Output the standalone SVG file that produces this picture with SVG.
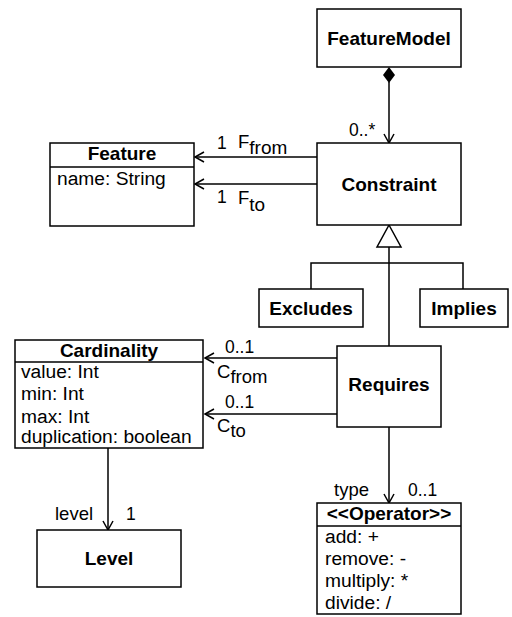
<svg xmlns="http://www.w3.org/2000/svg" width="512" height="617" viewBox="0 0 512 617">
<style>
.box{fill:#fff;stroke:#000;stroke-width:1.5}
.ln{fill:none;stroke:#000;stroke-width:1.5}
text{font-family:"Liberation Sans",Arial,sans-serif;fill:#000}
.t{font-size:19px;font-weight:bold;text-anchor:middle}
.a{font-size:19.2px}
.m{font-size:17.5px}
.r{font-size:18.5px}
</style>
<defs>
<marker id="open" markerWidth="12" markerHeight="12" refX="10" refY="6" orient="auto" markerUnits="userSpaceOnUse">
<path d="M1,1 L10,6 L1,11" fill="none" stroke="#000" stroke-width="1.5"/>
</marker>
</defs>
<g id="connectors">
<line class="ln" x1="389" y1="82" x2="389" y2="143" marker-end="url(#open)"/>
<path d="M389,67 L395,75 L389,83 L383,75 Z" fill="#000"/>
<line class="ln" x1="317" y1="157" x2="195" y2="157" marker-end="url(#open)"/>
<line class="ln" x1="317" y1="184" x2="195" y2="184" marker-end="url(#open)"/>
<path class="ln" d="M389,247 L389,346 M311,289 L311,263 L463,263 L463,289"/>
<path d="M389,225 L401,247 L377,247 Z" fill="#fff" stroke="#000" stroke-width="1.5"/>
<line class="ln" x1="337" y1="358" x2="205" y2="358" marker-end="url(#open)"/>
<line class="ln" x1="337" y1="414" x2="205" y2="414" marker-end="url(#open)"/>
<line class="ln" x1="389" y1="427" x2="389" y2="503" marker-end="url(#open)"/>
<line class="ln" x1="108" y1="448" x2="108" y2="530" marker-end="url(#open)"/>
<text class="m" x="349" y="136">0..*</text>
<text class="m" x="217" y="149">1</text>
<text class="r" x="238" y="148">F<tspan font-size="19" dy="6">from</tspan></text>
<text class="m" x="217" y="203">1</text>
<text class="r" x="238" y="204">F<tspan font-size="19" dy="7">to</tspan></text>
<text class="m" x="225" y="353">0..1</text>
<text class="r" x="217" y="378">C<tspan font-size="18.5" dy="5">from</tspan></text>
<text class="m" x="225" y="408">0..1</text>
<text class="r" x="217" y="432">C<tspan font-size="18.5" dy="5">to</tspan></text>
<text class="r" x="334" y="496">type</text>
<text class="m" x="408" y="496">0..1</text>
<text class="r" x="55" y="520">level</text>
<text class="m" x="126" y="520">1</text>
</g>
<g id="FeatureModel">
<rect class="box" x="317" y="9" width="144" height="58"/>
<text class="t" x="389" y="45">FeatureModel</text>
</g>
<g id="Constraint">
<rect class="box" x="317" y="143" width="144" height="82"/>
<text class="t" x="389" y="191">Constraint</text>
</g>
<g id="Feature">
<rect class="box" x="50" y="143" width="144" height="83"/>
<line class="ln" x1="50" y1="167" x2="194" y2="167"/>
<text class="t" x="122" y="160">Feature</text>
<text class="a" x="57" y="185">name: String</text>
</g>
<g id="Excludes">
<rect class="box" x="259" y="289" width="104" height="38"/>
<text class="t" x="311" y="315">Excludes</text>
</g>
<g id="Implies">
<rect class="box" x="420" y="289" width="88" height="38"/>
<text class="t" x="464" y="315">Implies</text>
</g>
<g id="Requires">
<rect class="box" x="337" y="346" width="104" height="81"/>
<text class="t" x="389" y="391">Requires</text>
</g>
<g id="Cardinality">
<rect class="box" x="15" y="340" width="188" height="108"/>
<line class="ln" x1="15" y1="362" x2="203" y2="362"/>
<text class="t" x="109" y="357">Cardinality</text>
<text class="a" x="21" y="378">value: Int</text>
<text class="a" x="21" y="400">min: Int</text>
<text class="a" x="21" y="423">max: Int</text>
<text class="a" x="21" y="443">duplication: boolean</text>
</g>
<g id="Level">
<rect class="box" x="37" y="530" width="144" height="57"/>
<text class="t" x="109" y="565">Level</text>
</g>
<g id="Operator">
<rect class="box" x="317" y="503" width="144" height="111"/>
<line class="ln" x1="317" y1="526" x2="461" y2="526"/>
<text class="t" x="389" y="520">&lt;&lt;Operator&gt;&gt;</text>
<text class="a" x="325" y="543">add: +</text>
<text class="a" x="325" y="565">remove: -</text>
<text class="a" x="325" y="587">multiply: *</text>
<text class="a" x="325" y="609">divide: /</text>
</g>
</svg>
